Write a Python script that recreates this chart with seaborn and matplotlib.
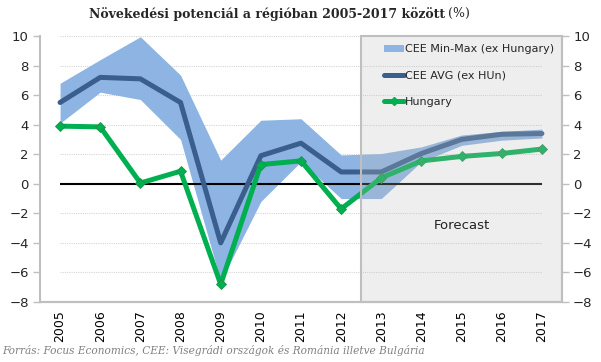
import numpy as np
import pandas as pd
import matplotlib
matplotlib.use("Agg")
import matplotlib.pyplot as plt
from matplotlib.patches import Rectangle, Patch
from matplotlib.lines import Line2D
import seaborn as sns

# --------------------------------------------------------------
# Data
# --------------------------------------------------------------
years = ["2005", "2006", "2007", "2008", "2009", "2010", "2011",
         "2012", "2013", "2014", "2015", "2016", "2017"]
cee_min = [4.1, 6.2, 5.7, 3.0, -6.6, -1.2, 1.5, -1.0, -1.0, 1.5, 2.6, 2.95, 3.1]
cee_max = [6.8, 8.4, 9.95, 7.35, 1.6, 4.3, 4.4, 1.95, 2.05, 2.5, 3.3, 3.55, 3.7]
cee_avg = [5.5, 7.2, 7.1, 5.5, -4.0, 1.9, 2.75, 0.8, 0.8, 2.05, 3.0, 3.35, 3.4]
hungary = [3.9, 3.85, 0.05, 0.85, -6.8, 1.3, 1.55, -1.7, 0.4, 1.55, 1.85, 2.05, 2.35]
forecast_from = "2013"

yticks = list(range(-8, 11, 2))

band_col = "#8db4e2"
avg_col = "#3a5f8e"
hun_col = "#00b050"
axis_col = "#bfbfbf"

df = pd.DataFrame({"x": np.arange(len(years)), "avg": cee_avg, "hun": hungary})

sns.set_style("white")
plt.rcParams["font.family"] = ["DejaVu Sans"]

fig = plt.figure(figsize=(6.01, 3.62), dpi=100)
ax = fig.add_axes([40 / 601, 60 / 362, 522 / 601, 266 / 362])

# grid (dotted) and zero line, only across the category centres
for yv in yticks:
    if yv in (0, -8):
        continue
    ax.hlines(yv, 0, len(years) - 1, colors="#d5d5d5", linestyles=(0, (1, 1)),
              linewidth=0.8, zorder=0)
ax.hlines(0, 0, len(years) - 1, colors="black", linewidth=1.5, zorder=2)

ax.fill_between(df["x"], cee_min, cee_max, color=band_col, linewidth=0, zorder=1)
sns.lineplot(data=df, x="x", y="avg", ax=ax, color=avg_col, linewidth=3.6,
             zorder=3, legend=False)
sns.lineplot(data=df, x="x", y="hun", ax=ax, color=hun_col, linewidth=3.6,
             marker="D", markersize=5, markeredgecolor="#1f8f4a",
             markeredgewidth=0.6, zorder=4, legend=False)

# forecast box drawn over the data, semi transparent
fstart = years.index(forecast_from) - 0.5
ax.add_patch(Rectangle((fstart, -8), len(years) - 0.5 - fstart, 18,
                       facecolor="#bfbfbf", alpha=0.25, edgecolor="none",
                       zorder=5))
ax.add_patch(Rectangle((fstart, -8), len(years) - 0.5 - fstart, 18,
                       facecolor="none", edgecolor=axis_col, linewidth=1.5,
                       zorder=6, clip_on=False))
ax.text((fstart + len(years) - 0.5) / 2, -2.8, "Forecast", ha="center",
        va="center", fontsize=9.5, color="#222222", zorder=7)

ax.set_xlim(-0.5, len(years) - 0.5)
ax.set_ylim(-8, 10)
ax.set_xlabel("")
ax.set_ylabel("")

# x ticks: labels at centres, tick marks at boundaries
ax.set_xticks(df["x"])
ax.set_xticklabels(years, rotation=90, fontsize=9)
ax.set_xticks(np.arange(-0.5, len(years), 1), minor=True)
ax.tick_params(axis="x", which="major", length=0, pad=6, colors="#000000")
ax.tick_params(axis="x", which="minor", length=5, width=1, color=axis_col,
               direction="out")

ax.set_yticks(yticks)
ax.tick_params(axis="y", which="major", length=5, width=1, color=axis_col,
               labelsize=9.5, pad=3)

ax2 = ax.twinx()
ax2.set_ylim(-8, 10)
ax2.set_yticks(yticks)
ax2.tick_params(axis="y", length=5, width=1, color=axis_col, labelsize=9.5,
                pad=3)

for a in (ax, ax2):
    a.spines["top"].set_visible(False)
    for s in ("left", "right", "bottom"):
        a.spines[s].set_color(axis_col)
        a.spines[s].set_linewidth(1.5)
ax2.spines["left"].set_visible(False)
ax.spines["right"].set_visible(False)

handles = [
    Patch(facecolor=band_col, edgecolor="none"),
    Line2D([], [], color=avg_col, linewidth=3.6),
    Line2D([], [], color=hun_col, linewidth=3.6, marker="D", markersize=4),
]
labels = ["CEE Min-Max (ex Hungary)", "CEE AVG (ex HUn)", "Hungary"]
ax2.legend(handles, labels, loc="upper left", bbox_to_anchor=(0.65, 0.985),
           frameon=False, fontsize=8, handlelength=1.8, handletextpad=0.1,
           labelspacing=1.45, borderaxespad=0)

fig.text(0.741, 0.962, "Növekedési potenciál a régióban 2005-2017 között",
         ha="right", va="center", fontsize=9, fontweight="bold",
         family="DejaVu Serif")
fig.text(0.746, 0.962, "(%)", ha="left", va="center", fontsize=9,
         family="DejaVu Serif")
fig.text(0.004, 0.033,
         "Forrás: Focus Economics, CEE: Visegrádi országok és Románia illetve Bulgária",
         ha="left", va="center", fontsize=7.6, style="italic",
         family="DejaVu Serif", color="#808080")

fig.savefig("out.png", dpi=100)
